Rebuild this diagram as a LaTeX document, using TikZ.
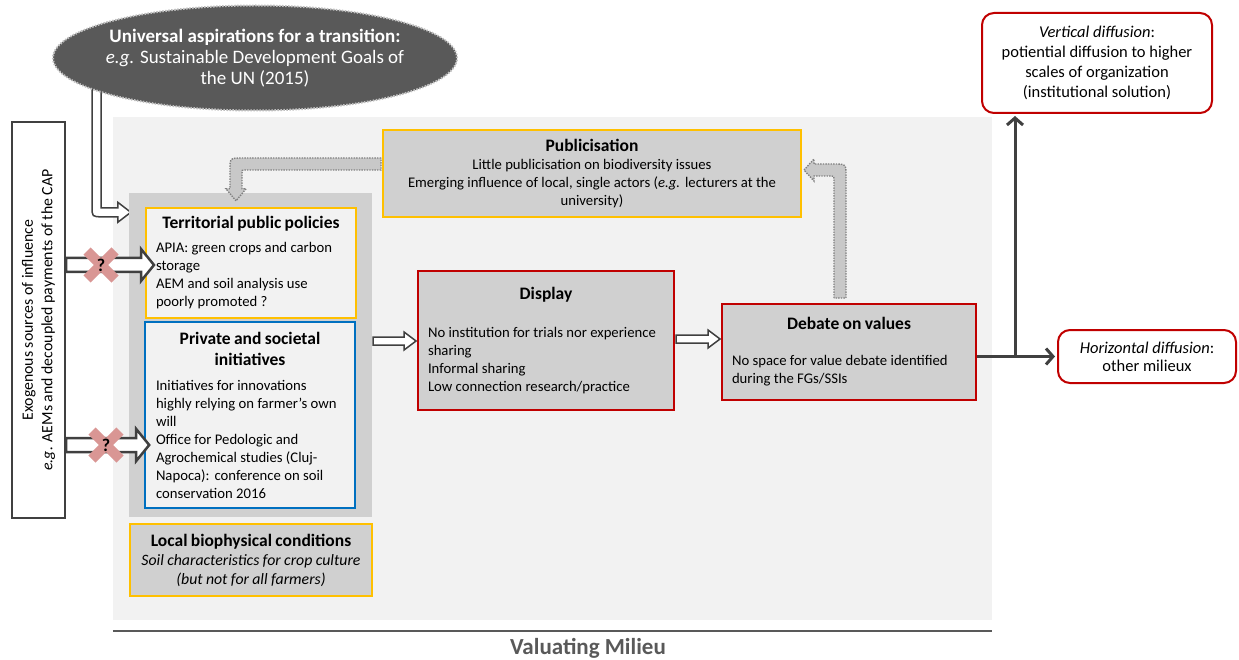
\documentclass[tikz,border=0pt]{standalone}
\usepackage{fontspec}
\setmainfont{Carlito}
\usetikzlibrary{calc,arrows.meta,shapes.geometric}

\definecolor{panelgray}{HTML}{F2F2F2}
\definecolor{boxgray}{HTML}{D0D0D0}
\definecolor{darkline}{HTML}{404040}
\definecolor{ellgray}{HTML}{595959}
\definecolor{ylw}{HTML}{FFC000}
\definecolor{blu}{HTML}{0070C0}
\definecolor{rd}{HTML}{C00000}
\definecolor{pinkx}{HTML}{D99694}
\definecolor{dotgray}{HTML}{C8C8C8}

\pgfdeclarelayer{background}
\pgfdeclarelayer{middle}
\pgfsetlayers{background,middle,main}

\newcommand{\txtbody}{\fontsize{14.7}{18}\selectfont}
\newcommand{\txthead}{\fontsize{17.5}{21}\selectfont\bfseries}

% hollow block arrow pointing right: [style]{from}{tip}{half shaft}{half head}{head length}
\newcommand{\hollowarrow}[6][]{%
  \path[hollow,#1] ($(#2)+(0,-#4)$) -- ($(#3)+(-#6,-#4)$) -- ($(#3)+(-#6,-#5)$) -- (#3)
    -- ($(#3)+(-#6,#5)$) -- ($(#3)+(-#6,#4)$) -- ($(#2)+(0,#4)$) -- cycle;}

\begin{document}
\begin{tikzpicture}[x=1pt,y=-1pt,
  box/.style={line width=2pt, inner xsep=10pt, inner ysep=0pt, align=left},
  ybox/.style={box, draw=ylw},
  rbox/.style={box, draw=rd, fill=boxgray},
  diffbox/.style={draw=rd, line width=2pt, fill=white, rounded corners=12pt, align=center, font=\fontsize{16.5}{20}\selectfont},
  hollow/.style={draw=darkline, fill=white, line width=1.5pt},
  dotarrow/.style={draw=gray, fill=dotgray, line width=1.4pt, dash pattern=on 1.4pt off 1.2pt},
  flow/.style={draw=darkline, line width=3pt, shorten >=2pt, -{Straight Barb[length=7pt,width=16pt]}},
  xcross/.style={draw=pinkx, line width=10pt},
  qmark/.style={font=\fontsize{18}{18}\selectfont\bfseries, inner sep=0pt}]
\useasboundingbox (0,0) rectangle (1239,660);

% milieu panel
\begin{pgfonlayer}{background}
\node[fill=panelgray, minimum width=879pt, minimum height=503pt, inner sep=0pt] (panel) at (552.5,368.5) {};
\end{pgfonlayer}

\node[ellipse, fill=ellgray, draw=gray!50, line width=2pt, dash pattern=on 1.5pt off 1.5pt,
  minimum width=404pt, minimum height=105pt, inner xsep=-14pt, inner ysep=0pt, text=white, align=center,
  font=\fontsize{19}{21}\selectfont] (aspir) at (255,58)
  {\textbf{Universal aspirations for a transition:}\\\textit{e.g.} Sustainable Development Goals of\\the UN (2015)};

\node[draw=darkline, line width=2pt, fill=white, rotate=90, minimum width=396pt, minimum height=53pt,
  inner sep=0pt, align=center, font=\fontsize{15.8}{19.5}\selectfont] (exo) at (38.5,320)
  {Exogenous sources of influence\\\textit{e.g.} AEMs and decoupled payments of the CAP};

\node[fill=boxgray, minimum width=243pt, minimum height=324pt, inner sep=0pt] (inner) at (250.5,355) {};

\node[ybox, fill=panelgray, text width=190pt, minimum height=109pt] (terr) at (251,263)
  {{\centering\txthead Territorial public policies\par}\vspace{6pt}
   \txtbody APIA: green crops and carbon\\storage\\AEM and soil analysis use\\poorly promoted ?\par};

\node[box, draw=blu, line width=1.6pt, fill=panelgray, inner xsep=11pt, text width=188pt, minimum height=186pt] (priv) at (250,415)
  {{\centering\txthead Private and societal\\initiatives\par}\vspace{7pt}
   \txtbody Initiatives for innovations\\highly relying on farmer’s own\\will\\Office for Pedologic and\\Agrochemical studies (Cluj-\\Napoca): conference on soil\\conservation 2016\par};

\node[ybox, fill=boxgray, text width=222pt, minimum height=72pt, align=center] (local) at (251,560)
  {{\txthead Local biophysical conditions\par}
   \fontsize{15.8}{19}\selectfont\itshape Soil characteristics for crop culture\\(but not for all farmers)\par};

\node[ybox, fill=boxgray, text width=398pt, minimum height=87pt, align=center] (pub) at (592,173.5)
  {{\txthead Publicisation\par}
   \txtbody Little publicisation on biodiversity issues\\Emerging influence of local, single actors (\textit{e.g.} lecturers at the\\university)\par};

\node[rbox, text width=236pt, minimum height=139pt] (disp) at (546,340.5)
  {{\centering\txthead Display\par}\vspace{20pt}
   \txtbody No institution for trials nor experience\\sharing\\Informal sharing\\Low connection research/practice\par};

\node[rbox, text width=234pt, minimum height=96pt] (deb) at (849,352)
  {{\centering\txthead Debate on values\par}\vspace{18pt}
   \txtbody No space for value debate identified\\during the FGs/SSIs\par};

\node[diffbox, minimum width=230pt, minimum height=100pt] (vert) at (1097,63)
  {\textit{Vertical diffusion}:\\potiential diffusion to higher\\scales of organization\\(institutional solution)};
\node[diffbox, minimum width=178pt, minimum height=53pt, font=\fontsize{16.5}{18}\selectfont] (horiz) at (1147,356.5)
  {\textit{Horizontal diffusion}:\\other milieux};

\draw[draw=ellgray, line width=2.5pt] ($(panel.south west)+(0,11)$) -- ($(panel.south east)+(0,11)$);
\node[text=ellgray, font=\fontsize{23}{24}\selectfont\bfseries] (milieu) at (588,648) {Valuating Milieu};

% aspirations -> policies
\begin{pgfonlayer}{middle}
\coordinate (ua) at ($(aspir.center)+(-158.5,21)$);
\coordinate (ub) at ($(inner.north west)+(2,19.5)$);
\coordinate (uc) at (ua |- ub);
\path[hollow] ($(ua)+(-4.5,0)$) -- ($(uc)+(-4.5,-6)$) .. controls ($(uc)+(-4.5,4.5)$) .. ($(uc)+(6,4.5)$)
  -- ($(ub)+(-13,4.5)$) -- ($(ub)+(-13,10)$) -- (ub) -- ($(ub)+(-13,-10)$) -- ($(ub)+(-13,-4.5)$)
  -- ($(uc)+(4.5,-4.5)$) -- ($(ua)+(4.5,0)$) -- cycle;
\end{pgfonlayer}

% exogenous influences, blocked
\coordinate (e1) at ($(exo.south)+(0,-55)$);
\coordinate (e1t) at ($(terr.west |- e1)+(9,0)$);
\hollowarrow[line width=2.5pt]{e1}{e1t}{7}{16}{13}
\coordinate (e2) at ($(exo.south)+(0,125)$);
\coordinate (e2t) at ($(priv.west |- e2)+(5,0)$);
\hollowarrow[line width=2.5pt]{e2}{e2t}{7}{16}{13}
\coordinate (x1) at ($(e1)+(35,0)$);
\draw[xcross] ($(x1)+(-14,-14)$) -- ($(x1)+(14,14)$) ($(x1)+(-14,14)$) -- ($(x1)+(14,-14)$);
\node[qmark] (q1) at (x1) {?};
\coordinate (x2) at ($(e2)+(40,0)$);
\draw[xcross] ($(x2)+(-14,-14)$) -- ($(x2)+(14,14)$) ($(x2)+(-14,14)$) -- ($(x2)+(14,-14)$);
\node[qmark] (q2) at (x2) {?};

% milieu chain
\coordinate (a1) at ($(inner.east)+(1,-14)$);
\coordinate (a1t) at ($(disp.west |- a1)+(-1,0)$);
\hollowarrow{a1}{a1t}{4}{9}{12}
\coordinate (a2) at ($(disp.east)+(1,-1.5)$);
\coordinate (a2t) at ($(deb.west |- a2)+(-1,0)$);
\hollowarrow{a2}{a2t}{4}{9}{12}

% feedback loops
\coordinate (d1) at ($(deb.north)+(-9,0)$);
\coordinate (d2) at ($(pub.east)+(2,-3.5)$);
\coordinate (dc) at (d1 |- d2);
\path[dotarrow] ($(d1)+(-6,-5)$) -- ($(dc)+(-6,9)$) .. controls ($(dc)+(-6,6)$) .. ($(dc)+(-9,6)$)
  -- ($(d2)+(10,6)$) -- ($(d2)+(10,11)$) -- (d2) -- ($(d2)+(10,-11)$) -- ($(d2)+(10,-6)$)
  -- ($(dc)+(-6,-6)$) .. controls ($(dc)+(6,-6)$) .. ($(dc)+(6,6)$) -- ($(d1)+(6,-5)$) -- cycle;
\coordinate (p1) at ($(pub.west)+(0,-9.5)$);
\coordinate (p2) at ($(inner.north)+(-14.5,8)$);
\coordinate (pc) at (p2 |- p1);
\path[dotarrow] ($(p1)+(-1,-6)$) -- ($(pc)+(6,-6)$) .. controls ($(pc)+(-6,-6)$) .. ($(pc)+(-6,6)$)
  -- ($(p2)+(-6,-12)$) -- ($(p2)+(-10,-12)$) -- (p2) -- ($(p2)+(10,-12)$) -- ($(p2)+(6,-12)$)
  -- ($(pc)+(6,9)$) .. controls ($(pc)+(6,6)$) .. ($(pc)+(9,6)$) -- ($(p1)+(-1,6)$) -- cycle;

% diffusion
\coordinate (br) at ($(deb.east |- horiz.west)+(38,0)$);
\draw[flow] (deb.east |- horiz.west) -- (horiz.west);
\draw[flow] (br) -- (br |- vert.south);
\end{tikzpicture}
\end{document}
